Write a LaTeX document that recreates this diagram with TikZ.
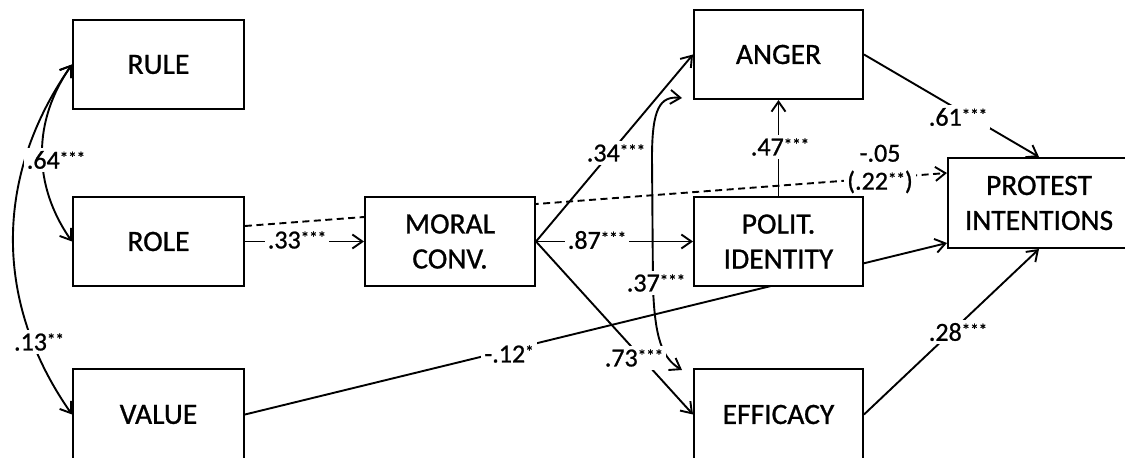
\documentclass[tikz,border=0pt]{standalone}
\usepackage{fontspec}
\setmainfont{Carlito}[FakeBold=0.9]
\usetikzlibrary{arrows.meta,calc}
\pgfdeclarelayer{bg}
\pgfsetlayers{bg,main}
\newcommand\sig[1]{\raisebox{5pt}{\fontsize{17}{17}\selectfont #1}}
\begin{document}
\begin{tikzpicture}[x=1pt,y=1pt,
  >={Straight Barb[length=10pt,width=14pt]},
  box/.style={draw, line width=2pt, fill=white, minimum width=171pt, minimum height=89pt,
    inner sep=0pt, align=center, font=\fontsize{29.5}{35}\selectfont},
  lbl/.style={fill=white, inner sep=3pt, align=center, font=\fontsize{26}{28}\selectfont},
  con/.style={line width=1.9pt},
  dsh/.style={line width=1.9pt, dash pattern=on 7pt off 4.5pt}]
\useasboundingbox (0,0) rectangle (1125,458);
\clip (0,0) rectangle (1125,458);

% boxes
\node[box] (rule) at (158.5,393.5) {RULE};
\node[box] (role) at (158.5,216.5) {ROLE};
\node[box, minimum height=91pt] (value) at (158.5,43.5) {VALUE};
\node[box, minimum width=170pt] (moral) at (450,216.5) {MORAL\\CONV.};
\node[box, minimum width=169pt] (anger) at (778.5,403.5) {ANGER};
\node[box, minimum width=169pt] (polit) at (778.5,216.5) {POLIT.\\IDENTITY};
\node[box, minimum width=169pt, minimum height=91pt] (efficacy) at (778.5,43.5) {EFFICACY};
\node[box, minimum width=182pt, minimum height=90pt] (protest) at (1039,255) {PROTEST\\INTENTIONS};

% connection points
\coordinate (d1) at ($(role.east)+(0,15.5)$);
\coordinate (d2) at ($(protest.west)+(0,30)$);
\coordinate (v2) at ($(protest.south west)+(0,6)$);
\coordinate (c1) at ($(anger.south west)+(-11,2)$);
\coordinate (c2) at ($(efficacy.north west)+(-11,-2)$);

% lines passing behind boxes
\begin{pgfonlayer}{bg}
\draw[dsh,->] (d1) -- (d2);
\draw[con,->] (value.east) -- (v2);
\end{pgfonlayer}

% connectors
\draw[con,<->] (rule.west) to[out=235,in=125] (role.west);
\draw[con,<->] (rule.west) to[out=235,in=125] (value.west);
\draw[con,->] (role.east) -- (moral.west);
\draw[con,->] (moral.east) -- (anger.west);
\draw[con,->] (moral.east) -- (polit.west);
\draw[con,->] (moral.east) -- (efficacy.west);
\draw[con,->] (polit.north) -- (anger.south);
\draw[con,->] (anger.east) -- (protest.north);
\draw[con,->] (efficacy.east) -- (protest.south);
\draw[con,<->] (c1) .. controls (660,362) and (652,350) .. (652,300) -- (653,170) .. controls (655,120) and (662,100) .. (c2);

% labels
\node[lbl] (l64) at (56,298) {.64\sig{***}};
\node[lbl] (l13) at (39,116) {.13\sig{**}};
\node[lbl] (l33) at (297,218) {.33\sig{***}};
\node[lbl] (l34) at (616,305) {.34\sig{***}};
\node[lbl] (l87) at (597,218) {.87\sig{***}};
\node[lbl] (l37) at (656,175) {.37\sig{***}};
\node[lbl] (l73) at (634,100) {.73\sig{***}};
\node[lbl] (l12) at (509,104) {-.12\sig{*}};
\node[lbl] (l47) at (780,311) {.47\sig{***}};
\node[lbl] (l05) at (880,289) {-.05\\(.22\sig{**})};
\node[lbl] (l61) at (958,341) {.61\sig{***}};
\node[lbl] (l28) at (958,126) {.28\sig{***}};
\end{tikzpicture}
\end{document}
